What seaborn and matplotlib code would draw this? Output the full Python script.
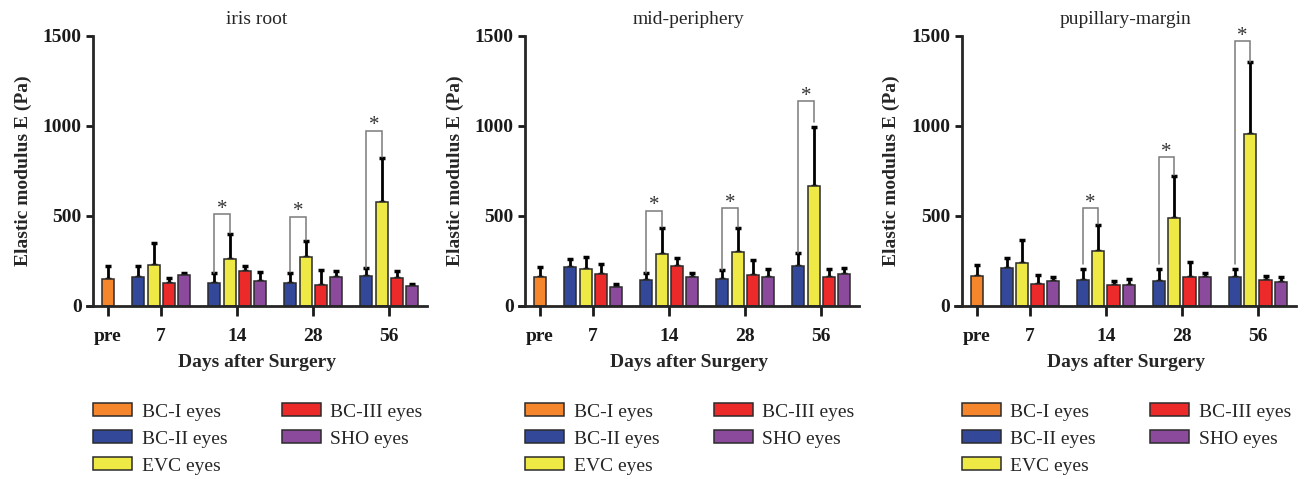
import numpy as np
import pandas as pd
import matplotlib
matplotlib.use("Agg")
import matplotlib.pyplot as plt
import seaborn as sns

# ---------------- data ----------------
regions = ["iris root", "mid-periphery", "pupillary-margin"]
days = ["pre", "7", "14", "28", "56"]
groups = ["BC-I eyes", "BC-II eyes", "EVC eyes", "BC-III eyes", "SHO eyes"]
day_groups = {
    "pre": ["BC-I eyes"],
    "7": ["BC-II eyes", "EVC eyes", "BC-III eyes", "SHO eyes"],
    "14": ["BC-II eyes", "EVC eyes", "BC-III eyes", "SHO eyes"],
    "28": ["BC-II eyes", "EVC eyes", "BC-III eyes", "SHO eyes"],
    "56": ["BC-II eyes", "EVC eyes", "BC-III eyes", "SHO eyes"],
}
colors = ["#F5862C", "#34489A", "#EEE944", "#EC2A2A", "#8B4A9C"]

# means, ordered: pre | 7 (BC-II, EVC, BC-III, SHO) | 14 | 28 | 56
iris_root_mean = [151, 163, 227, 129, 170, 126, 262, 192, 140, 126, 272, 118, 163, 168, 578, 157, 109]
iris_root_sd = [74, 62, 124, 28, 15, 55, 137, 33, 48, 55, 90, 82, 31, 43, 244, 37, 13]
mid_periphery_mean = [163, 218, 207, 177, 103, 146, 288, 220, 159, 150, 299, 174, 161, 220, 667, 161, 177]
mid_periphery_sd = [51, 41, 68, 59, 17, 35, 148, 48, 26, 48, 137, 79, 42, 76, 329, 42, 34]
pupillary_margin_mean = [167, 212, 238, 121, 137, 143, 306, 115, 115, 139, 490, 161, 161, 160, 958, 145, 136]
pupillary_margin_sd = [63, 55, 130, 53, 23, 61, 145, 26, 34, 65, 232, 84, 21, 48, 397, 24, 25]

# significance brackets (BC-II vs EVC) per day: bracket top, left leg end, right leg end
sig_days = ["14", "28", "56"]
iris_root_sig = [(510, 185, 405), (497, 188, 368), (975, 211, 830)]
mid_periphery_sig = [(528, 185, 440), (543, 198, 440), (1138, 296, 1025)]
pupillary_margin_sig = [(544, 234, 455), (826, 234, 726), (1470, 234, 1358)]

means = [iris_root_mean, mid_periphery_mean, pupillary_margin_mean]
sds = [iris_root_sd, mid_periphery_sd, pupillary_margin_sd]
sigs = [iris_root_sig, mid_periphery_sig, pupillary_margin_sig]

# ---------------- build table ----------------
rows = []
for r, region in enumerate(regions):
    slot = 0
    i = 0
    for d in days:
        for g in day_groups[d]:
            rows.append(dict(region=region, day=d, group=g, slot=slot,
                             value=means[r][i], sd=sds[r][i]))
            slot += 1
            i += 1
        slot += 1
df = pd.DataFrame(rows)
n_slots = int(df["slot"].max()) + 1
slot_order = list(range(n_slots))

# ---------------- style ----------------
sns.set_style("ticks")
plt.rcParams["font.family"] = ["Liberation Serif", "DejaVu Serif"]
plt.rcParams["axes.linewidth"] = 2.0

W, H = 1315, 479
fig = plt.figure(figsize=(W / 100, H / 100), dpi=100)
unit = 15.2
xmin, xmax = -1.4, 21.0
pre_x = [108, 540, 976.7]
y0_px, y1_px = 306, 36

for r, region in enumerate(regions):
    left_px = pre_x[r] + xmin * unit
    width_px = (xmax - xmin) * unit
    ax = fig.add_axes([left_px / W, 1 - y0_px / H, width_px / W, (y0_px - y1_px) / H])
    sub = df[df["region"] == region]
    sns.barplot(data=sub, x="slot", y="value", hue="group", order=slot_order,
                hue_order=groups, palette=colors, saturation=1, dodge=False,
                errorbar=None, width=0.8, edgecolor="#2b2b2b", linewidth=1.1,
                ax=ax, legend=True)
    ax.errorbar(sub["slot"], sub["value"], yerr=[np.zeros(len(sub)), sub["sd"]],
                fmt="none", ecolor="black", elinewidth=2.0, capsize=2.5, capthick=2.5,
                zorder=1)
    for p in ax.patches:
        p.set_zorder(2)

    sns.despine(ax=ax)
    ax.spines["left"].set_position(("data", -1.0))
    ax.set_xlim(xmin, xmax)
    ax.set_ylim(0, 1500)
    ax.set_yticks([0, 500, 1000, 1500])
    tick_pos = [sub[sub["day"] == d]["slot"].mean() for d in days]
    ax.set_xticks(tick_pos)
    ax.set_xticklabels(days)
    ax.tick_params(axis="y", length=5, width=2, pad=3, colors="#1a1a1a", labelsize=14)
    ax.tick_params(axis="x", length=7, width=2, pad=9, colors="#1a1a1a", labelsize=14)
    for lab in ax.get_xticklabels() + ax.get_yticklabels():
        lab.set_fontweight("bold")
    ax.set_xlabel("Days after Surgery", fontsize=14, fontweight="bold", labelpad=6)
    ax.set_ylabel("Elastic modulus E (Pa)", fontsize=14, fontweight="bold", labelpad=8)
    ax.set_title(region, fontsize=14, pad=9)

    # significance brackets
    for d, (top, lbot, rbot) in zip(sig_days, sigs[r]):
        s = sub[sub["day"] == d]
        xl = s[s["group"] == "BC-II eyes"]["slot"].iloc[0]
        xr = s[s["group"] == "EVC eyes"]["slot"].iloc[0]
        ax.plot([xl, xl, xr, xr], [lbot, top, top, rbot], color="#7a7a7a", lw=1.1,
                solid_joinstyle="miter", zorder=3)
        ax.text((xl + xr) / 2, top - 25, "*", ha="center", va="bottom",
                fontsize=15, color="#333333")

    sns.move_legend(ax, "upper left",
                    bbox_to_anchor=((pre_x[r] - 15 - left_px) / width_px, -0.36),
                    ncol=2, frameon=False, title=None, fontsize=14,
                    handlelength=2.0, handleheight=0.65, handletextpad=0.5,
                    columnspacing=2.8, labelspacing=0.5, borderpad=0, borderaxespad=0)

fig.savefig("out.png", dpi=100, facecolor="white")
